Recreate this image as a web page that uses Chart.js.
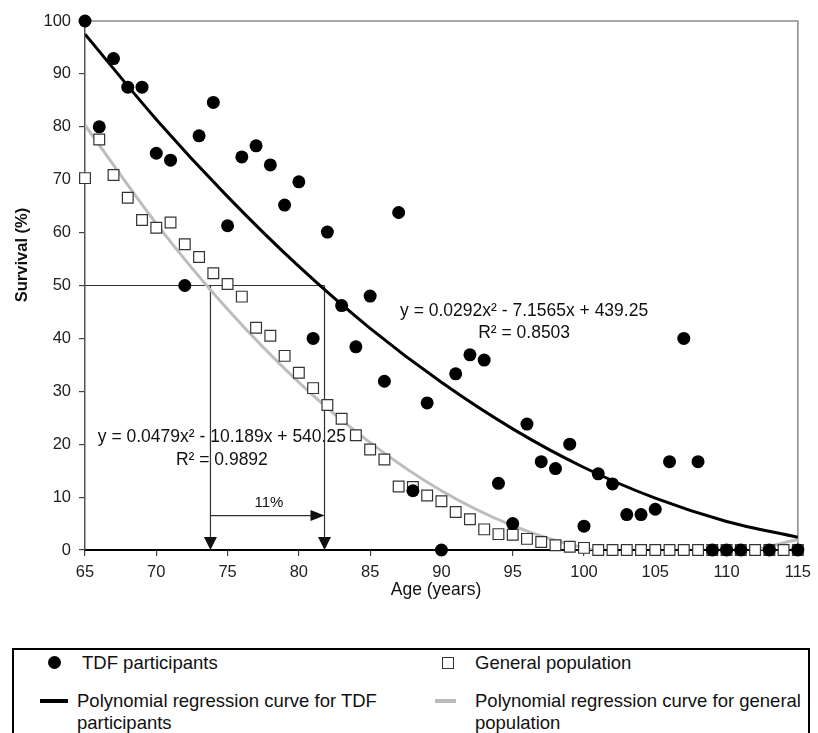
<!DOCTYPE html>
<html>
<head>
<meta charset="utf-8">
<script src="https://cdn.jsdelivr.net/npm/chart.js@4.4.0/dist/chart.umd.min.js"></script>
<style>
  body { margin: 0; width: 818px; height: 733px; overflow: hidden; position: relative; background: #fff;
         font-family: 'Liberation Sans', Arial, sans-serif; color: #111; }
  #chart { position: absolute; left: 0; top: 0; }
  #legendBox { position: absolute; left: 12px; top: 648px; width: 798px; height: 120px;
               border: 2px solid #000; box-sizing: border-box; }
  .lg { position: absolute; font-size: 18.5px; line-height: 22px; white-space: nowrap; }
  .mk { position: absolute; box-sizing: border-box; }
</style>
</head>
<body>
<canvas id="chart" width="818" height="640"></canvas>

<div id="legendBox"></div>
<div class="mk" style="left:48px;top:656px;width:13px;height:13px;border-radius:50%;background:#000"></div>
<div class="lg" style="left:82px;top:652px">TDF participants</div>
<div class="mk" style="left:442px;top:657px;width:12px;height:12px;border:1px solid #333;background:#fff"></div>
<div class="lg" style="left:475px;top:652px">General population</div>
<div class="mk" style="left:40px;top:699px;width:28px;height:4px;background:#000"></div>
<div class="lg" style="left:77px;top:690px">Polynomial regression curve for TDF<br>participants</div>
<div class="mk" style="left:435px;top:699px;width:21px;height:4px;background:#bbb"></div>
<div class="lg" style="left:475px;top:690px">Polynomial regression curve for general<br>population</div>

<script>
// Ages et survie
const tdfAges = [65, 66, 67, 68, 69, 70, 71, 72, 73, 74, 75, 76, 77, 78, 79, 80, 81, 82, 83, 84, 85, 86, 87, 88, 89, 90,
                 91, 92, 93, 94, 95, 96, 97, 98, 99, 100, 101, 102, 103, 104, 105, 106, 107, 108, 109, 110, 111, 113, 115];
const tdfSurvival = [100, 80.0, 92.9, 87.5, 87.5, 75.0, 73.7, 50.0, 78.3, 84.6, 61.3, 74.3, 76.4, 72.8, 65.2, 69.6, 40.0, 60.1,
                     46.2, 38.4, 48.0, 31.9, 63.8, 11.2, 27.8, 0, 33.3, 36.9, 35.9, 12.6, 5.0, 23.8, 16.7, 15.4, 20.0, 4.5,
                     14.4, 12.5, 6.7, 6.7, 7.7, 16.7, 40.0, 16.7, 0, 0, 0, 0, 0];

const genAges = [65, 66, 67, 68, 69, 70, 71, 72, 73, 74, 75, 76, 77, 78, 79, 80, 81, 82, 83, 84, 85, 86, 87, 88, 89, 90,
                 91, 92, 93, 94, 95, 96, 97, 98, 99, 100, 101, 102, 103, 104, 105, 106, 107, 108, 109, 110, 111, 112, 113, 114, 115];
const genSurvival = [70.3, 77.6, 70.9, 66.6, 62.4, 60.9, 61.9, 57.8, 55.4, 52.3, 50.3, 47.9, 42.0, 40.5, 36.7, 33.5, 30.6, 27.4,
                     24.8, 21.7, 19.0, 17.1, 12.0, 11.9, 10.3, 9.2, 7.2, 5.8, 3.9, 3.0, 2.9, 2.1, 1.5, 0.9, 0.6, 0.4,
                     0, 0, 0, 0, 0, 0, 0, 0, 0, 0, 0, 0, 0, 0, 0];

// Courbes de régression
const fitAges = [65, 70, 75, 80, 85, 90, 95, 100, 105, 110, 115];
const tdfFit = [97.5, 81.4, 66.8, 53.6, 41.9, 31.7, 22.9, 15.6, 9.8, 5.4, 2.4];
const genFit = [80.3, 61.7, 45.5, 31.7, 20.3, 11.2, 4.6, 0.4, -1.5, -1.0, 2.0];

// Repères : survie 50 %, âges correspondants, écart
const halfLevel = 50;
const medianAges = [73.8, 81.8];
const gapLevel = 6.5;

const xTicks = [65, 70, 75, 80, 85, 90, 95, 100, 105, 110, 115];
const yTicks = [0, 10, 20, 30, 40, 50, 60, 70, 80, 90, 100];

const labels = [
    { text: 'y = 0.0292x² - 7.1565x + 439.25', x: 95.8, y: 45.2, size: 17.5 },
    { text: 'R² = 0.8503', x: 95.8, y: 41.0, size: 17.5 },
    { text: 'y = 0.0479x² - 10.189x + 540.25', x: 74.6, y: 21.4, size: 17.5 },
    { text: 'R² = 0.9892', x: 74.6, y: 17.0, size: 17.5 },
    { text: '11%', x: 77.9, y: 8.9, size: 15 }
];

const FONT = "'Liberation Sans', Arial, sans-serif";
const toPoints = (xs, ys) => xs.map((x, i) => ({ x: x, y: ys[i] }));

const annotations = {
    id: 'annotations',
    beforeDatasetsDraw(chart) {
        const { ctx, chartArea: a, scales: { x, y } } = chart;
        ctx.save();
        // cadre gris haut / droite
        ctx.strokeStyle = '#8a8a8a';
        ctx.lineWidth = 1.5;
        ctx.beginPath();
        ctx.moveTo(a.left, a.top);
        ctx.lineTo(a.right, a.top);
        ctx.lineTo(a.right, a.bottom);
        ctx.stroke();

        ctx.strokeStyle = '#333';
        ctx.fillStyle = '#111';
        ctx.lineWidth = 1.2;
        const yHalf = y.getPixelForValue(halfLevel);
        const y0 = y.getPixelForValue(0);
        const xa = x.getPixelForValue(medianAges[0]);
        const xb = x.getPixelForValue(medianAges[1]);
        ctx.beginPath();
        ctx.moveTo(a.left, yHalf);
        ctx.lineTo(xb, yHalf);
        [xa, xb].forEach(px => {
            ctx.moveTo(px, yHalf);
            ctx.lineTo(px, y0 - 10);
        });
        const yg = y.getPixelForValue(gapLevel);
        ctx.moveTo(xa, yg);
        ctx.lineTo(xb - 10, yg);
        ctx.stroke();

        [xa, xb].forEach(px => {
            ctx.beginPath();
            ctx.moveTo(px, y0);
            ctx.lineTo(px - 6.5, y0 - 13);
            ctx.lineTo(px + 6.5, y0 - 13);
            ctx.closePath();
            ctx.fill();
        });
        ctx.beginPath();
        ctx.moveTo(xb, yg);
        ctx.lineTo(xb - 14, yg - 5.5);
        ctx.lineTo(xb - 14, yg + 5.5);
        ctx.closePath();
        ctx.fill();
        ctx.restore();
    },
    afterDatasetsDraw(chart) {
        const { ctx, chartArea: a, scales: { x, y } } = chart;
        ctx.save();
        ctx.fillStyle = '#111';
        ctx.textAlign = 'center';
        ctx.textBaseline = 'middle';
        labels.forEach(l => {
            ctx.font = l.size + 'px ' + FONT;
            ctx.fillText(l.text, x.getPixelForValue(l.x), y.getPixelForValue(l.y));
        });
        // titres des axes
        ctx.font = '17.5px ' + FONT;
        ctx.fillText('Age (years)', 436, 590);
        ctx.translate(22, 255);
        ctx.rotate(-Math.PI / 2);
        ctx.font = 'bold 16.5px ' + FONT;
        ctx.fillText('Survival (%)', 0, 0);
        ctx.restore();
    }
};

new Chart(document.getElementById('chart'), {
    type: 'scatter',
    data: {
        datasets: [
            {
                label: 'TDF participants',
                data: toPoints(tdfAges, tdfSurvival),
                pointStyle: 'circle',
                pointRadius: 6.5,
                backgroundColor: '#000',
                borderColor: '#000',
                borderWidth: 0,
                clip: false,
                order: 1
            },
            {
                label: 'General population',
                data: toPoints(genAges, genSurvival),
                pointStyle: 'rect',
                pointRadius: 7.6,
                backgroundColor: '#fff',
                borderColor: '#333',
                borderWidth: 1.2,
                clip: false,
                order: 2
            },
            {
                type: 'line',
                label: 'Polynomial regression curve for TDF participants',
                data: toPoints(fitAges, tdfFit),
                borderColor: '#000',
                borderWidth: 3,
                pointRadius: 0,
                fill: false,
                cubicInterpolationMode: 'monotone',
                clip: 0,
                order: 3
            },
            {
                type: 'line',
                label: 'Polynomial regression curve for general population',
                data: toPoints(fitAges, genFit),
                borderColor: '#bdbdbd',
                borderWidth: 3,
                pointRadius: 0,
                fill: false,
                cubicInterpolationMode: 'monotone',
                clip: 0,
                order: 4
            }
        ]
    },
    options: {
        responsive: false,
        animation: false,
        devicePixelRatio: 1,
        layout: { padding: { left: 0, top: 21, right: 17, bottom: 0 } },
        plugins: { legend: { display: false }, tooltip: { enabled: false } },
        scales: {
            x: {
                type: 'linear',
                min: 65,
                max: 115,
                afterBuildTicks: s => { s.ticks = xTicks.map(v => ({ value: v })); },
                afterFit: s => { s.height = 90; },
                grid: { drawOnChartArea: false, tickLength: 6, color: '#444', lineWidth: 1.2 },
                border: { color: '#000', width: 2 },
                ticks: { font: { size: 16.5, family: FONT }, color: '#222', padding: 7, maxRotation: 0, autoSkip: false }
            },
            y: {
                type: 'linear',
                min: 0,
                max: 100,
                afterBuildTicks: s => { s.ticks = yTicks.map(v => ({ value: v })); },
                afterFit: s => { s.width = 85; },
                grid: { drawOnChartArea: false, tickLength: 6, color: '#444', lineWidth: 1.2 },
                border: { color: '#555', width: 1.5 },
                ticks: { font: { size: 16.5, family: FONT }, color: '#222', padding: 8 }
            }
        }
    },
    plugins: [annotations]
});
</script>
</body>
</html>
